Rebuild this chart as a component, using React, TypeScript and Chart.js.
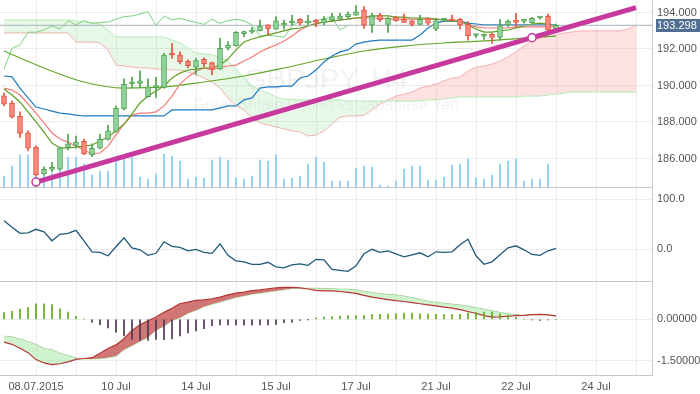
import React, { useEffect, useRef } from 'react';
import { Chart, registerables } from 'chart.js';

Chart.register(...registerables);

// ---------- data ----------
const opens = [
  189.44, 189.03, 188.33, 187.41, 186.63, 185.15, 185.40, 185.41, 186.61, 186.72,
  186.94, 186.19, 186.56, 187.05, 187.49, 188.71, 190.08, 190.12, 189.39, 189.89,
  189.90, 191.73, 191.67, 191.34, 191.00, 191.44, 191.25, 190.90, 192.04, 192.18,
  192.84, 192.92, 193.00, 193.32, 193.08, 193.30, 193.44, 193.63, 193.43, 193.51,
  193.44, 193.59, 193.63, 193.77, 193.86, 194.14, 193.32, 193.86, 193.35, 193.74,
  193.63, 193.55, 193.35, 193.68, 193.08, 193.59, 193.64, 193.63, 193.35, 192.74,
  192.70, 192.81, 192.64, 193.32, 193.59, 193.51, 193.44, 193.70, 193.81, 193.08,
];
const highs = [
  189.59, 189.15, 188.56, 187.51, 186.69, 185.55, 185.79, 186.63, 187.33, 187.23,
  187.07, 186.80, 187.33, 187.82, 188.88, 190.36, 190.45, 190.80, 190.36, 190.45,
  191.76, 192.31, 191.85, 191.40, 191.49, 191.51, 191.29, 192.59, 192.40, 192.96,
  193.00, 193.19, 193.59, 193.34, 193.77, 193.59, 193.86, 193.67, 193.86, 193.63,
  193.77, 193.96, 193.96, 194.04, 194.37, 194.32, 193.96, 193.96, 193.74, 193.77,
  193.92, 193.57, 193.86, 193.70, 193.68, 193.67, 193.86, 193.68, 193.50, 192.82,
  192.82, 192.86, 193.63, 193.59, 193.96, 193.63, 193.74, 193.77, 193.92, 193.37,
];
const lows = [
  188.88, 188.22, 187.16, 186.43, 185.04, 185.10, 185.28, 185.37, 186.47, 186.56,
  186.21, 186.10, 186.52, 187.01, 187.45, 188.66, 189.90, 189.90, 189.37, 189.35,
  189.86, 191.49, 191.18, 190.98, 190.61, 191.03, 190.58, 190.88, 191.95, 192.16,
  192.67, 192.86, 192.99, 192.77, 193.07, 193.08, 193.32, 193.32, 193.32, 193.22,
  193.32, 193.53, 193.59, 193.68, 193.84, 193.13, 192.91, 193.50, 192.91, 193.53,
  193.44, 193.26, 193.32, 193.32, 193.00, 193.53, 193.55, 193.08, 192.49, 192.64,
  192.53, 192.31, 192.49, 193.22, 193.22, 193.41, 193.41, 193.63, 192.95, 193.04,
];
const closes = [
  188.97, 188.26, 187.38, 186.56, 185.10, 185.41, 185.43, 186.59, 186.80, 186.90,
  186.25, 186.56, 187.05, 187.51, 188.75, 190.07, 190.12, 190.25, 189.93, 189.92,
  191.67, 191.67, 191.30, 191.09, 191.36, 191.18, 190.90, 192.04, 192.22, 192.92,
  192.92, 193.04, 193.26, 193.10, 193.55, 193.32, 193.55, 193.41, 193.45, 193.48,
  193.63, 193.77, 193.81, 193.92, 194.04, 193.30, 193.81, 193.59, 193.68, 193.55,
  193.46, 193.35, 193.63, 193.41, 193.55, 193.62, 193.55, 193.32, 192.71, 192.75,
  192.71, 192.64, 193.28, 193.52, 193.46, 193.52, 193.68, 193.72, 193.04, 193.298,
];
const volumes = [
  11, 21, 32, 32, 31, 12, 14, 30, 30, 30,
  23, 12, 16, 16, 30, 30, 30, 10, 8, 13,
  33, 31, 26, 8, 10, 9, 27, 30, 27, 9,
  8, 11, 27, 26, 32, 8, 9, 11, 23, 30,
  25, 6, 6, 6, 19, 21, 20, 2, 1, 6,
  18, 21, 21, 7, 7, 10, 22, 23, 28, 9,
  8, 12, 23, 26, 28, 6, 8, 8, 23, 0,
];
const tenkan = [
  189.86, 189.75, 189.48, 188.99, 188.49, 187.95, 187.40, 187.07, 186.90, 186.68,
  186.47, 186.25, 186.30, 186.68, 187.29, 187.89, 188.38, 188.49, 188.49, 188.55,
  188.88, 189.42, 190.08, 190.47, 190.79, 190.96, 190.85, 191.01, 191.07, 191.12,
  191.34, 191.56, 191.84, 192.05, 192.22, 192.44, 192.71, 193.04, 193.26, 193.42,
  193.48, 193.53, 193.59, 193.64, 193.70, 193.70, 193.70, 193.70, 193.64, 193.64,
  193.64, 193.64, 193.64, 193.64, 193.64, 193.59, 193.59, 193.53, 193.32, 193.21,
  193.15, 193.15, 193.15, 193.15, 193.21, 193.21, 193.21, 193.21, 193.21, 193.21,
];
const kijun = [
  190.52, 190.47, 189.86, 189.32, 188.82, 188.71, 188.60, 188.49, 188.44, 188.38,
  188.33, 188.33, 188.33, 188.33, 188.33, 188.33, 188.33, 188.33, 188.33, 188.33,
  188.33, 188.66, 188.66, 188.66, 188.66, 188.66, 188.66, 188.77, 188.88, 188.88,
  189.21, 189.32, 189.86, 189.92, 189.92, 189.97, 189.97, 190.41, 190.52, 190.85,
  191.29, 191.62, 191.84, 191.95, 192.27, 192.38, 192.44, 192.49, 192.49, 192.49,
  192.49, 192.49, 192.77, 193.15, 193.42, 193.53, 193.53, 193.53, 193.42, 193.37,
  193.32, 193.32, 193.32, 193.32, 193.32, 193.32, 193.32, 193.32, 193.32, 193.32,
];
const fastMA = [
  189.81, 189.48, 189.10, 188.55, 188.00, 187.45, 186.85, 186.58, 186.58, 186.63,
  186.68, 186.74, 186.96, 187.18, 187.51, 187.89, 188.44, 189.04, 189.42, 189.70,
  189.97, 190.41, 190.68, 190.85, 190.90, 190.96, 190.96, 191.12, 191.45, 191.95,
  192.38, 192.55, 192.66, 192.77, 192.88, 192.99, 193.10, 193.15, 193.26, 193.37,
  193.48, 193.53, 193.59, 193.64, 193.70, 193.75, 193.81, 193.81, 193.81, 193.75,
  193.75, 193.70, 193.70, 193.70, 193.64, 193.59, 193.53, 193.53, 193.32, 193.10,
  192.93, 192.93, 192.99, 193.04, 193.15, 193.26, 193.37, 193.42, 193.37, 193.26,
];
const slowMAIdx = [0, 5, 10, 15, 20, 25, 30, 35, 40, 45, 50, 55, 60, 65, 69];
const slowMA = [191.89, 190.96, 190.19, 189.86, 189.92, 190.19, 190.52, 190.96, 191.45, 191.89, 192.16, 192.33, 192.44, 192.60, 192.71];
const senkouA = [
  193.59, 193.59, 193.59, 193.59, 193.59, 193.59, 193.59, 193.59, 193.59,
  193.53, 193.48, 193.42, 193.37, 193.04,
  192.66, 192.66, 192.66, 192.66, 192.66, 192.66, 192.66,
  192.49, 192.33, 192.05, 191.78, 191.73, 191.67, 191.56, 191.34, 190.90, 190.41, 189.97, 189.75, 189.59, 189.37, 189.26,
  189.21, 189.21, 189.21, 189.21, 189.21, 189.21, 189.21,
  189.15, 189.15, 189.15, 189.15, 189.15, 189.15, 189.15, 189.15, 189.15, 189.15,
  189.21, 189.21, 189.26, 189.32,
  189.37, 189.37, 189.37, 189.37, 189.37, 189.37, 189.37, 189.37,
  189.42, 189.42, 189.42, 189.48, 189.53, 189.59,
  189.64, 189.64, 189.64, 189.64, 189.64, 189.64, 189.64, 189.64, 189.64,
];
const senkouB = [
  192.88, 192.88, 192.88, 192.88, 192.88, 192.88, 192.88, 192.88, 192.88,
  192.38, 192.38, 192.38, 192.33, 191.95,
  191.12, 191.07, 191.01, 190.96, 190.96, 190.90, 190.90, 190.85, 190.85,
  190.74, 190.58, 190.41, 190.19, 189.86,
  189.32, 188.93, 188.66, 188.22, 187.95, 187.84, 187.73, 187.62, 187.51, 187.45,
  187.23, 187.29, 187.51, 187.89, 188.27, 188.33, 188.33, 188.38,
  188.66, 188.99, 189.21, 189.42, 189.53, 189.64, 189.86, 189.97, 190.08, 190.25,
  190.41, 190.47, 190.79, 191.01, 191.07, 191.18, 191.34, 191.56, 191.84, 192.16,
  192.49, 192.60, 192.66, 192.77, 192.88, 192.93,
  192.99, 192.99, 192.99, 192.99, 192.99, 192.99,
  193.10, 193.32,
];
const CHIKOU_SHIFT = 26;
const trendIdx = [4, 66, 79];
const trendVal = [184.71, 192.62, 194.27];
const cci = [
  57, 44, 32, 33, 40, 35, 17, 30, 32, 38,
  17, -5, -6, -13, 5, 23, 3, -1, -12, -8,
  15, 6, 4, -3, 0, -6, -8, 11, -12, -23,
  -25, -30, -30, -26, -35, -37, -31, -29, -32, -20,
  -21, -40, -42, -44, -33, -9, 0, -6, -3, -9,
  -15, -11, -7, -15, -5, -6, -5, 9, 20, -13,
  -30, -25, -11, 3, 7, -1, -10, -12, -3, 2,
];
const macdHist = [
  0.24, 0.29, 0.36, 0.43, 0.56, 0.56, 0.53, 0.38, 0.26, 0.11,
  0.02, -0.1, -0.19, -0.31, -0.46, -0.6, -0.72, -0.76, -0.76, -0.72,
  -0.73, -0.71, -0.6, -0.49, -0.42, -0.34, -0.23, -0.2, -0.2, -0.2,
  -0.21, -0.21, -0.2, -0.2, -0.18, -0.12, -0.1, -0.04, -0.01, 0.05,
  0.08, 0.1, 0.12, 0.13, 0.13, 0.14, 0.17, 0.18, 0.19, 0.2,
  0.22, 0.22, 0.2, 0.19, 0.18, 0.17, 0.17, 0.18, 0.23, 0.25,
  0.26, 0.26, 0.2, 0.14, 0.07, 0.02, -0.02, -0.04, -0.02, 0,
];
const macdSignal = [
  -0.82, -0.9, -1.04, -1.2, -1.45, -1.57, -1.63, -1.6, -1.53, -1.44,
  -1.41, -1.38, -1.22, -1.05, -0.92, -0.7, -0.4, -0.2, -0.05, 0.08,
  0.25, 0.4, 0.57, 0.62, 0.68, 0.7, 0.74, 0.8, 0.88, 0.94,
  0.98, 1.03, 1.06, 1.1, 1.13, 1.15, 1.15, 1.13, 1.09, 1.04,
  1.02, 1.02, 1.0, 0.97, 0.93, 0.86, 0.8, 0.75, 0.71, 0.67,
  0.64, 0.6, 0.56, 0.52, 0.48, 0.44, 0.4, 0.35, 0.28, 0.21,
  0.13, 0.08, 0.09, 0.11, 0.13, 0.14, 0.17, 0.18, 0.16, 0.12,
];
const macdMain = [
  -0.6, -0.63, -0.71, -0.8, -0.9, -1.05, -1.1, -1.22, -1.3, -1.38,
  -1.43, -1.43, -1.42, -1.38, -1.33, -1.1, -0.95, -0.8, -0.65, -0.4,
  -0.25, -0.05, 0.05, 0.22, 0.32, 0.45, 0.54, 0.62, 0.7, 0.78,
  0.84, 0.9, 0.94, 0.98, 1.02, 1.06, 1.1, 1.12, 1.12, 1.12,
  1.11, 1.1, 1.09, 1.09, 1.06, 1.01, 0.97, 0.93, 0.9, 0.88,
  0.84, 0.78, 0.72, 0.66, 0.61, 0.58, 0.55, 0.52, 0.48, 0.42,
  0.37, 0.31, 0.25, 0.2, 0.17, 0.15, 0.16, 0.17, 0.15, 0.12,
];
const xGridIdx = [4, 9, 14, 19, 24, 29, 34, 39, 44, 49, 54, 59, 64, 69, 74, 79];
const xTickLabels = ['08.07.2015', '', '10 Jul', '', '14 Jul', '', '15 Jul', '', '17 Jul', '', '21 Jul', '', '22 Jul', '', '24 Jul', ''];
const priceTicks = [186, 188, 190, 192, 194];
const cciTicks = [0, 100];
const macdTicks = [-1.5, 0];
const SYMBOL = 'GBPJPY, H4';
const SYMBOL_DESC = 'Great Britain Pound vs Japanese Yen';

// ---------- styles ----------
const FONT = "'Liberation Sans', Arial, Helvetica, sans-serif";
const TEXT = '#555555';
const GRID = '#ececec';
const AXIS = '#c3c7cc';
const UP_FILL = '#90d39a';
const UP_LINE = '#4ea24e';
const DN_FILL = '#f7897a';
const DN_LINE = '#e2533f';

const xy = (arr: number[], start = 0) => arr.map((v, i) => ({ x: i + start, y: v }));

const zeroPad = (s: any) => {
  s.paddingLeft = 0;
  s.paddingRight = 0;
  s.paddingTop = 0;
  s.paddingBottom = 0;
};

function xScale(showLabels: boolean, height: number): any {
  return {
    type: 'linear',
    min: -0.5,
    max: 81,
    offset: false,
    afterBuildTicks: (s: any) => { s.ticks = xGridIdx.map((v) => ({ value: v })); },
    afterFit: (s: any) => { s.height = height; zeroPad(s); },
    grid: { color: GRID, drawTicks: false, offset: false },
    border: { color: AXIS },
    ticks: showLabels
      ? { display: true, autoSkip: false, maxRotation: 0, padding: 5, color: TEXT, font: { family: FONT, size: 11 }, callback: (_v: any, i: number) => xTickLabels[i] }
      : { display: false },
  };
}

function yScale(min: number, max: number, ticks: number[], decimals: number): any {
  return {
    position: 'right',
    min,
    max,
    beginAtZero: false,
    afterBuildTicks: (s: any) => { s.ticks = ticks.map((v) => ({ value: v })); },
    afterFit: (s: any) => { s.width = 48; zeroPad(s); },
    grid: { color: GRID, drawTicks: false },
    border: { color: AXIS },
    ticks: { padding: 5, color: TEXT, font: { family: FONT, size: 11 }, callback: (v: any) => Number(v).toFixed(decimals) },
  };
}

const baseOptions = (scales: any): any => ({
  animation: false,
  responsive: false,
  maintainAspectRatio: false,
  devicePixelRatio: 1,
  layout: { padding: 0, autoPadding: false },
  plugins: { legend: { display: false }, tooltip: { enabled: false } },
  elements: { point: { radius: 0 }, line: { tension: 0 } },
  scales,
});

const watermarkPlugin = {
  id: 'watermark',
  beforeDatasetsDraw(chart: any) {
    const { ctx, chartArea } = chart;
    const cx = (chartArea.left + chartArea.right) / 2;
    const cy = (chartArea.top + chartArea.bottom) / 2;
    ctx.save();
    ctx.textAlign = 'center';
    ctx.textBaseline = 'alphabetic';
    ctx.fillStyle = 'rgba(0,0,0,0.055)';
    ctx.font = `29px ${FONT}`;
    ctx.fillText(SYMBOL, cx, cy - 5);
    ctx.font = `16px ${FONT}`;
    ctx.fillText(SYMBOL_DESC, cx, cy + 16);
    ctx.restore();
  },
};

const LAST = closes[closes.length - 1];
const lastPricePlugin = {
  id: 'lastPrice',
  afterDraw(chart: any) {
    const ys = chart.scales.y;
    const y = ys.getPixelForValue(LAST);
    const left = ys.left + 4;
    const ctx = chart.ctx;
    ctx.save();
    ctx.fillStyle = '#4f6e91';
    ctx.fillRect(left, Math.round(y) - 6, chart.width - left, 13);
    ctx.fillStyle = '#ffffff';
    ctx.font = `11px ${FONT}`;
    ctx.textAlign = 'left';
    ctx.textBaseline = 'middle';
    ctx.fillText(LAST.toFixed(3), left + 1, Math.round(y) + 0.5);
    ctx.restore();
  },
};

function mainConfig(): any {
  const up = closes.map((c, i) => c >= opens[i]);
  const datasets: any[] = [
    {
      type: 'line', data: xy(senkouA), borderColor: '#b6eab6', borderWidth: 1, pointRadius: 0, order: 10,
      fill: { target: '+1', above: 'rgba(150,222,150,0.22)', below: 'rgba(250,150,150,0.28)' },
    },
    { type: 'line', data: xy(senkouB), borderColor: '#f6b1b1', borderWidth: 1, pointRadius: 0, order: 11, fill: false },
    {
      type: 'bar', data: xy(volumes), yAxisID: 'yVol', backgroundColor: '#7ccdf3', barThickness: 1,
      grouped: false, order: 9,
    },
    { type: 'line', data: xy(closes.slice(CHIKOU_SHIFT)), borderColor: '#7dd27d', borderWidth: 1, pointRadius: 0, order: 8 },
    {
      type: 'line', data: slowMAIdx.map((k, i) => ({ x: k, y: slowMA[i] })), borderColor: '#62a72a', borderWidth: 1.2,
      pointRadius: 0, cubicInterpolationMode: 'monotone', order: 7,
    },
    { type: 'line', data: xy(kijun), borderColor: '#1f7cc2', borderWidth: 1.2, pointRadius: 0, order: 6 },
    { type: 'line', data: xy(tenkan), borderColor: '#f37a74', borderWidth: 1.2, pointRadius: 0, order: 5 },
    { type: 'line', data: xy(fastMA), borderColor: '#5e9f22', borderWidth: 1.2, pointRadius: 0, order: 4 },
    {
      type: 'line', data: [{ x: -0.5, y: LAST }, { x: 81, y: LAST }], borderColor: '#a9b2bc', borderWidth: 1,
      pointRadius: 0, order: 3,
    },
    {
      type: 'bar', data: lows.map((l, i) => ({ x: i, y: [l, highs[i]] })), barThickness: 1, grouped: false,
      backgroundColor: up.map((u) => (u ? UP_LINE : DN_LINE)), borderWidth: 0, order: 2,
    },
    {
      type: 'bar', data: opens.map((o, i) => ({ x: i, y: [o, closes[i]] })), barThickness: 5, grouped: false,
      minBarLength: 2, borderSkipped: false, borderWidth: 1,
      backgroundColor: up.map((u) => (u ? UP_FILL : DN_FILL)),
      borderColor: up.map((u) => (u ? UP_LINE : DN_LINE)), order: 1,
    },
    {
      type: 'line', data: trendIdx.map((k, i) => ({ x: k, y: trendVal[i] })), borderColor: '#c8399e', borderWidth: 5,
      pointRadius: [4, 4, 0], pointBackgroundColor: '#ffffff', pointBorderColor: '#c8399e', pointBorderWidth: 1.5, order: 0,
    },
  ];
  return {
    type: 'bar',
    data: { datasets },
    options: baseOptions({
      x: xScale(false, 1),
      y: yScale(184.438, 194.685, priceTicks, 3),
      yVol: { display: false, min: 0, max: 187, beginAtZero: true },
    }),
    plugins: [watermarkPlugin, lastPricePlugin],
  };
}

function cciConfig(): any {
  return {
    type: 'line',
    data: { datasets: [{ data: xy(cci), borderColor: '#1f5b78', borderWidth: 1.3, pointRadius: 0 }] },
    options: baseOptions({
      x: xScale(false, 1),
      y: yScale(-63.4, 122.6, cciTicks, 1),
    }),
  };
}

function macdConfig(): any {
  return {
    type: 'bar',
    data: {
      datasets: [
        {
          type: 'line', data: xy(macdSignal), borderColor: '#b83535', borderWidth: 1.2, pointRadius: 0, order: 1,
          fill: { target: '+1', above: 'rgba(196,84,84,0.8)', below: 'rgba(160,232,160,0.5)' },
        },
        { type: 'line', data: xy(macdMain), borderColor: '#b3e8b3', borderWidth: 1, pointRadius: 0, order: 2 },
        {
          type: 'bar', data: xy(macdHist), barThickness: 1, grouped: false, order: 0,
          backgroundColor: macdHist.map((v) => (v >= 0 ? '#5fa81b' : '#4d3650')),
        },
      ],
    },
    options: baseOptions({
      x: xScale(true, 19),
      y: yScale(-2.004, 1.342, macdTicks, 5),
    }),
  };
}

export default function App() {
  const r1 = useRef<HTMLCanvasElement>(null);
  const r2 = useRef<HTMLCanvasElement>(null);
  const r3 = useRef<HTMLCanvasElement>(null);

  useEffect(() => {
    const charts = [
      new Chart(r1.current as HTMLCanvasElement, mainConfig()),
      new Chart(r2.current as HTMLCanvasElement, cciConfig()),
      new Chart(r3.current as HTMLCanvasElement, macdConfig()),
    ];
    return () => charts.forEach((c) => c.destroy());
  }, []);

  return (
    <div style={{ position: 'absolute', left: 0, top: 0, width: 700, height: 394, background: '#ffffff', overflow: 'hidden' }}>
      <canvas ref={r1} width={700} height={188} style={{ position: 'absolute', left: 0, top: 0 }} />
      <canvas ref={r2} width={700} height={94} style={{ position: 'absolute', left: 0, top: 188 }} />
      <canvas ref={r3} width={700} height={112} style={{ position: 'absolute', left: 0, top: 282 }} />
    </div>
  );
}
